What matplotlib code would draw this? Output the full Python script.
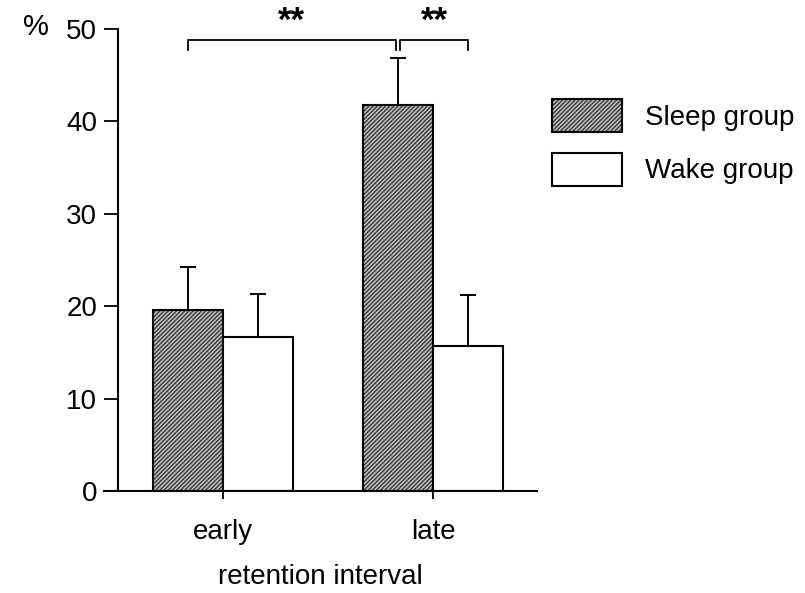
import numpy as np
import matplotlib.pyplot as plt

plt.rcParams['font.family'] = ['Liberation Sans', 'DejaVu Sans']
plt.rcParams['hatch.linewidth'] = 0.9

# Recall (%) by retention interval
intervals = ['early', 'late']
sleep_mean = [19.6, 41.8]
sleep_err = [4.6, 5.1]
wake_mean = [16.7, 15.7]
wake_err = [4.6, 5.5]
group_labels = ['Sleep group', 'Wake group']


def main():
    fig = plt.figure(figsize=(8.05, 5.93), dpi=100)
    ax = fig.add_axes([0.129, 0.172, 0.538, 0.779])

    x = np.arange(len(intervals))
    width = 1 / 3

    sleep_bars = ax.bar(x - width / 2, sleep_mean, width, color='#bcbcbc', edgecolor='black',
                        hatch='////////', linewidth=1.5, label=group_labels[0])
    wake_bars = ax.bar(x + width / 2, wake_mean, width, color='white', edgecolor='black',
                       linewidth=1.5, label=group_labels[1])
    for bar in sleep_bars:
        bar._hatch_color = (0.18, 0.18, 0.18, 1.0)

    # upper error bars only
    ax.errorbar(x - width / 2, sleep_mean, yerr=[np.zeros(2), sleep_err], fmt='none',
                ecolor='black', elinewidth=1.4, capsize=5.5, capthick=1.4)
    ax.errorbar(x + width / 2, wake_mean, yerr=[np.zeros(2), wake_err], fmt='none',
                ecolor='black', elinewidth=1.4, capsize=5.5, capthick=1.4)

    # significance brackets
    def bracket(x0, x1, y, drop=1.1):
        ax.plot([x0, x0, x1, x1], [y - drop, y, y, y - drop], color='black', lw=1.3, clip_on=False)
        ax.text((x0 + x1) / 2, y + 0.3, '**', ha='center', va='bottom', fontsize=25,
                fontweight='bold', clip_on=False)

    bracket(x[0] - width / 2, x[1] - width / 2 - 0.01, 48.8)
    bracket(x[1] - width / 2 + 0.01, x[1] + width / 2, 48.8)

    ax.set_xlim(-0.567, 1.495)
    ax.set_ylim(0, 50)
    ax.set_yticks([0, 10, 20, 30, 40, 50])
    ax.set_xticks(x)
    ax.set_xticklabels(intervals)
    ax.tick_params(axis='y', direction='out', length=10, width=1.3, labelsize=20, pad=5)
    ax.tick_params(axis='x', direction='out', length=6, width=1.3, labelsize=20, pad=14)

    ax.spines['top'].set_visible(False)
    ax.spines['right'].set_visible(False)
    ax.spines['left'].set_position(('data', -0.5))
    ax.spines['left'].set_linewidth(1.5)
    ax.spines['bottom'].set_linewidth(1.5)

    ax.set_xlabel('retention interval', fontsize=20, labelpad=14)
    fig.text(0.028, 0.955, '%', fontsize=21, ha='left', va='center')

    ax.legend(loc='upper left', bbox_to_anchor=(1.01, 0.873), frameon=False, fontsize=20,
              handlelength=2.5, handleheight=1.45, handletextpad=0.85, labelspacing=0.75,
              borderaxespad=0)

    fig.savefig('out.png', dpi=100)


if __name__ == '__main__':
    main()
